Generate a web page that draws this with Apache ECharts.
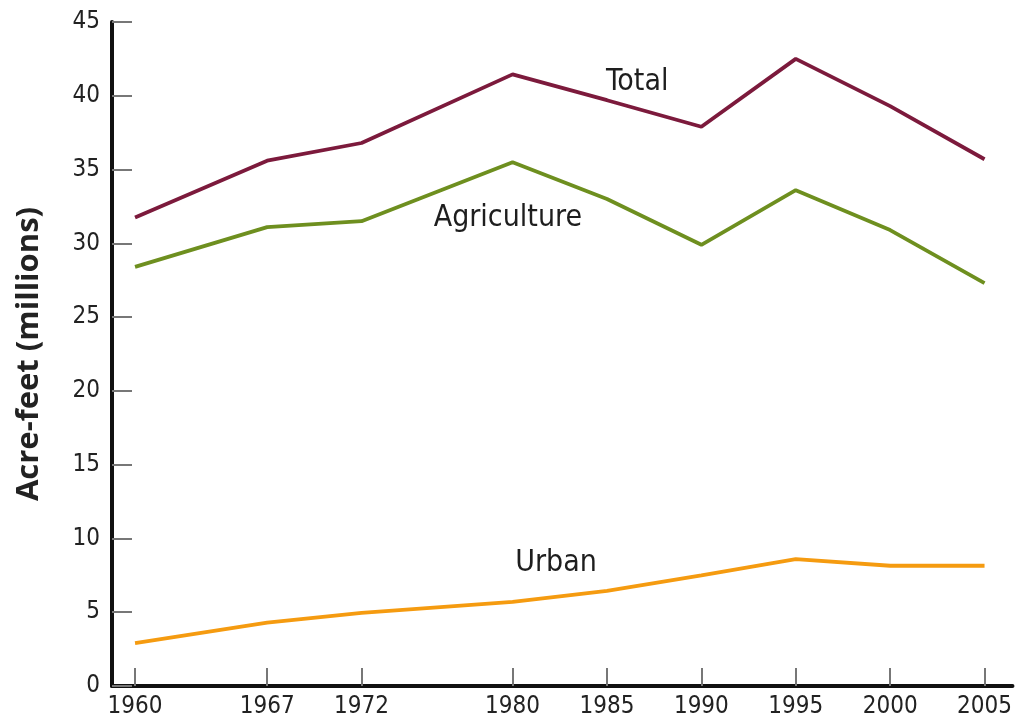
<!DOCTYPE html>
<html>
<head>
<meta charset="utf-8">
<script src="https://cdn.jsdelivr.net/npm/echarts@6/dist/echarts.min.js"></script>
<style>html,body{margin:0;padding:0;background:#fff}#c{width:1015px;height:726px}</style>
</head>
<body>
<div id="c"></div>
<script>
const years = [1960, 1967, 1972, 1980, 1985, 1990, 1995, 2000, 2005];
const total = [31.75, 35.6, 36.8, 41.45, 39.7, 37.9, 42.5, 39.3, 35.7];
const agriculture = [28.4, 31.1, 31.5, 35.5, 33.0, 29.9, 33.6, 30.9, 27.3];
const urban = [2.9, 4.3, 4.95, 5.7, 6.45, 7.5, 8.6, 8.15, 8.15];
const seriesNames = ['Total', 'Agriculture', 'Urban'];
const labelAnchors = [[1986.6, 40.9], [1979.75, 31.7], [1982.3, 8.35]];

const colors = ['#7c1a3c', '#6e8f1f', '#f59b10'];
const font = '"DejaVu Sans Condensed", "Liberation Sans Narrow", sans-serif';
const chart = echarts.init(document.getElementById('c'));
const pair = (arr) => years.map((y, i) => [y, arr[i]]);
const datasets = [total, agriculture, urban];

chart.setOption({
  animation: false,
  grid: { left: 112, right: 2, top: 22, bottom: 40, containLabel: false },
  xAxis: {
    type: 'value', min: 1958.78, max: 2006.48,
    splitLine: { show: false },
    axisLine: { lineStyle: { color: '#111', width: 4 } },
    axisTick: { show: true, inside: true, length: 18, customValues: years, lineStyle: { color: '#777', width: 2 } },
    axisLabel: { customValues: years, formatter: (v) => String(v), color: '#222', fontSize: 24, fontFamily: font, margin: 9 }
  },
  yAxis: {
    type: 'value', min: 0, max: 45, interval: 5,
    name: 'Acre-feet (millions)', nameLocation: 'middle', nameGap: 67, nameRotate: 90,
    nameTextStyle: { color: '#222', fontSize: 31, fontWeight: 'bold', fontFamily: '"Open Sans", sans-serif' },
    splitLine: { show: false },
    axisLine: { show: true, lineStyle: { color: '#111', width: 4 } },
    axisTick: { show: true, inside: true, length: 20, lineStyle: { color: '#777', width: 2 } },
    axisLabel: { color: '#222', fontSize: 24, fontFamily: font, margin: 12 }
  },
  series: datasets.map((d, i) => ({
    name: seriesNames[i], type: 'line', data: pair(d),
    symbol: 'none', lineStyle: { color: colors[i], width: 3.8 },
    markPoint: {
      symbol: 'circle', symbolSize: 0,
      data: [{ coord: labelAnchors[i], value: seriesNames[i] }],
      label: { show: true, position: 'inside', formatter: seriesNames[i], color: '#1e1e1e', fontSize: 30, fontFamily: font }
    }
  }))
});
</script>
</body>
</html>
